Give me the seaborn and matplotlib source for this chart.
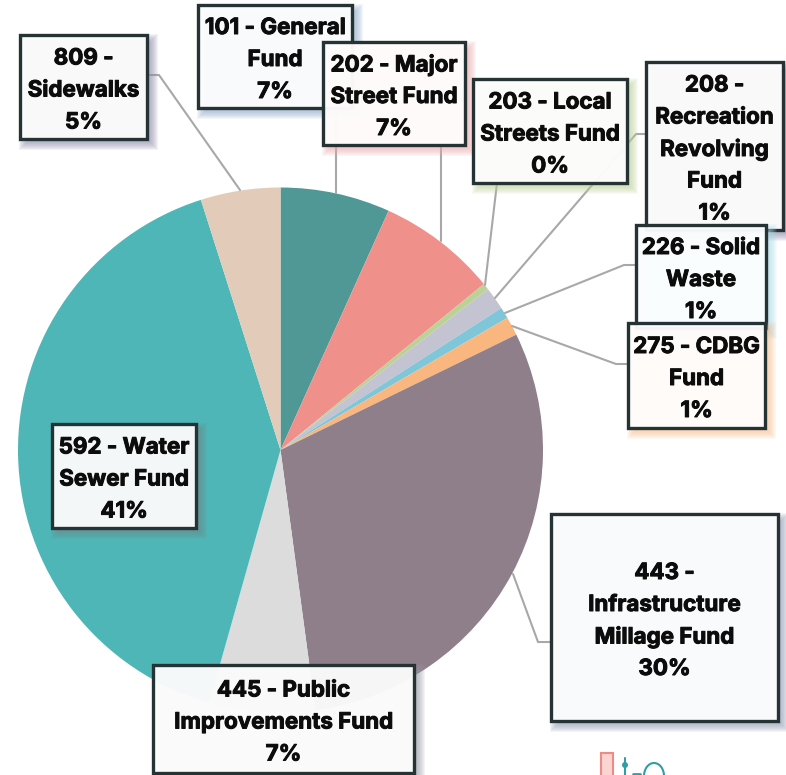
import matplotlib
matplotlib.use("Agg")
import matplotlib.pyplot as plt
import matplotlib.patheffects as pe
import seaborn as sns
from matplotlib.patches import Rectangle, Arc, Circle

# values, share of the whole pie
funds = ['101', '202', '203', '208', '226', '275', '443', '445', '592', '809']
shares = [6.75, 7.35, 0.4, 1.4, 0.7, 1.15, 30.1, 6.5, 40.7, 4.9]
pcts = ['7%', '7%', '0%', '1%', '1%', '1%', '30%', '7%', '41%', '5%']
names = [['101 - General', 'Fund'],
         ['202 - Major', 'Street Fund'],
         ['203 - Local', 'Streets Fund'],
         ['208 -', 'Recreation', 'Revolving', 'Fund'],
         ['226 - Solid', 'Waste'],
         ['275 - CDBG', 'Fund'],
         ['443 -', 'Infrastructure', 'Millage Fund'],
         ['445 - Public', 'Improvements Fund'],
         ['592 - Water', 'Sewer Fund'],
         ['809 -', 'Sidewalks']]
colors = ['#4f9896', '#f0908b', '#bcd196', '#c3c3d1', '#7fc6d9',
          '#f9b77f', '#8f7f8b', '#dcdcdc', '#4eb6b6', '#e2ccb9']
shadow_colors = ['#8fa8c8', '#f0a8a8', '#bcd196', '#8f86a8', '#a8dce8',
                 '#f9c090', '#8c98b0', '#9a9aa8', '#6f8a8a', '#8f88a8']

# box layout in pixels: left, top, right, bottom
boxes = {'101': (198, 5, 352, 108), '202': (323, 42, 465, 145),
         '203': (473, 79, 627, 183), '208': (646, 62, 783, 230),
         '226': (636, 225, 766, 328), '275': (628, 323, 765, 428),
         '443': (551, 514, 778, 721), '445': (153, 665, 414, 773),
         '592': (52, 424, 196, 528), '809': (20, 35, 147, 139)}
leaders = {'101': [(336, 108), (336, 193)],
           '202': [(441, 145), (441, 241)],
           '203': [(497, 183), (485, 285)],
           '208': [(646, 134), (636, 134), (495, 298)],
           '226': [(636, 265), (624, 265), (505, 313)],
           '275': [(628, 364), (616, 364), (512, 326)],
           '443': [(551, 642), (538, 642), (513, 574)],
           '809': [(147, 75), (159, 75), (240, 190)]}

sns.set_theme(style='white')
plt.rcParams['font.family'] = ['Inter', 'DejaVu Sans']
palette = sns.color_palette(colors)

W, H = 786, 775
fig = plt.figure(figsize=(W / 100, H / 100), dpi=100, facecolor='white')

ax = fig.add_axes([18 / W, (H - 713) / H, 525 / W, 526 / H])
ax.pie(shares, colors=palette, startangle=90, counterclock=False, radius=1,
       wedgeprops={'linewidth': 0})
ax.set_xlim(-1, 1)
ax.set_ylim(-1, 1)

over = fig.add_axes([0, 0, 1, 1])
over.set_xlim(0, W)
over.set_ylim(H, 0)
over.axis('off')
over.patch.set_alpha(0)

# leader lines sit under the boxes
for fund, pts in leaders.items():
    over.plot([p[0] for p in pts], [p[1] for p in pts], color='#a8a8a8', lw=1.5, zorder=1)

for i, fund in enumerate(funds):
    x0, y0, x1, y1 = boxes[fund]
    z = 2 + i
    # soft coloured shadow
    for grow in range(6, -3, -1):
        over.add_patch(Rectangle((x0 + 5 - grow, y0 + 5 - grow), x1 - x0 + 2 * grow, y1 - y0 + 2 * grow,
                                 fc=shadow_colors[i], ec='none', alpha=0.1, zorder=z))
    over.add_patch(Rectangle((x0, y0), x1 - x0, y1 - y0, fc='white', ec='none', alpha=0.93, zorder=z))
    over.add_patch(Rectangle((x0, y0), x1 - x0, y1 - y0, fc='none', ec='#263335', lw=2.4, zorder=z))
    lines = names[i] + [pcts[i]]
    cx = (x0 + x1) / 2
    top = (y0 + y1) / 2 - (len(lines) - 1) * 16 + 3.5
    for j, line in enumerate(lines):
        over.text(cx, top + j * 32, line, ha='center', va='center', fontsize=16.1,
                  fontweight='bold', color='#0c0c0c', zorder=z,
                  path_effects=[pe.withStroke(linewidth=0.7, foreground='#0c0c0c')])

# bit of logo cut off by the bottom edge
over.add_patch(Rectangle((601, 753), 12, 30, fc='#fbd5d2', ec='#f08a84', lw=1.5, zorder=20))
over.plot([625, 625], [758, 775], color='#2f9fa3', lw=1.5, zorder=20)
over.add_patch(Circle((625, 765), 3, fc='#2f9fa3', ec='none', zorder=20))
over.plot([633, 640], [774, 774], color='#2f9fa3', lw=2, zorder=20)
over.add_patch(Arc((654, 776), 20, 26, theta1=180, theta2=360, ec='#2f9fa3', lw=1.5, zorder=20))

fig.savefig('out.png', dpi=100)
